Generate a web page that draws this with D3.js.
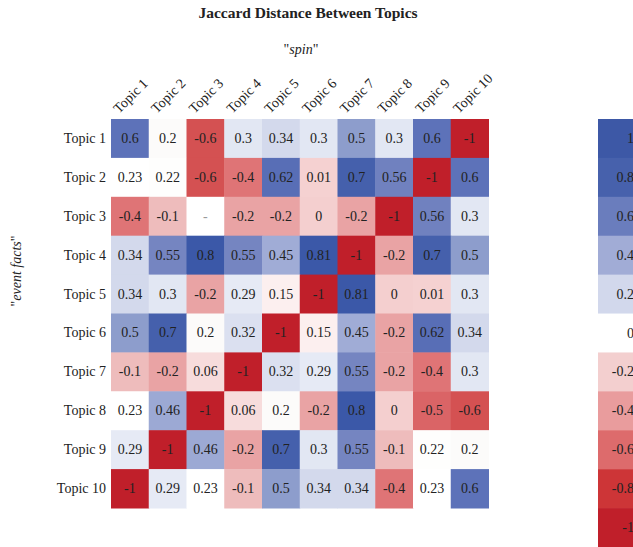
<!DOCTYPE html>
<html>
<head>
<meta charset="utf-8">
<script src="https://cdn.jsdelivr.net/npm/d3@7"></script>
<style>
  body { margin: 0; background: #fff; }
  svg { font-family: "Liberation Serif", "DejaVu Serif", serif; }
</style>
</head>
<body>
<div id="chart"></div>
<script>
// Data
const topics = ["Topic 1", "Topic 2", "Topic 3", "Topic 4", "Topic 5",
                "Topic 6", "Topic 7", "Topic 8", "Topic 9", "Topic 10"];

// rows = "event facts", columns = "spin"; null = no value
const values = [
  [0.6, 0.2, -0.6, 0.3, 0.34, 0.3, 0.5, 0.3, 0.6, -1],
  [0.23, 0.22, -0.6, -0.4, 0.62, 0.01, 0.7, 0.56, -1, 0.6],
  [-0.4, -0.1, null, -0.2, -0.2, 0, -0.2, -1, 0.56, 0.3],
  [0.34, 0.55, 0.8, 0.55, 0.45, 0.81, -1, -0.2, 0.7, 0.5],
  [0.34, 0.3, -0.2, 0.29, 0.15, -1, 0.81, 0, 0.01, 0.3],
  [0.5, 0.7, 0.2, 0.32, -1, 0.15, 0.45, -0.2, 0.62, 0.34],
  [-0.1, -0.2, 0.06, -1, 0.32, 0.29, 0.55, -0.2, -0.4, 0.3],
  [0.23, 0.46, -1, 0.06, 0.2, -0.2, 0.8, 0, -0.5, -0.6],
  [0.29, -1, 0.46, -0.2, 0.7, 0.3, 0.55, -0.1, 0.22, 0.2],
  [-1, 0.29, 0.23, -0.1, 0.5, 0.34, 0.34, -0.4, 0.23, 0.6]
];

const legendTicks = [1, 0.8, 0.6, 0.4, 0.2, 0, -0.2, -0.4, -0.6, -0.8, -1];

// Cell colour ramp (stops)
const cellStops = [-1, -0.6, -0.5, -0.4, -0.2, -0.1, 0, 0.06, 0.15, 0.2, 0.23, 0.29, 0.34, 0.45, 0.5, 0.55, 0.6, 0.7, 0.8];
const cellColors = ["#c01f2a", "#d45152", "#da6466", "#df7476", "#e9a3a4", "#eebcbc", "#f4cfcf", "#f7dcdc",
                    "#fcefef", "#fcfbfa", "#ffffff", "#e6eaf5", "#d3d9ec", "#a0acd6", "#8d9dcc", "#7585c1",
                    "#5d72b9", "#4560ac", "#3b58a8"];

// Legend swatch colours
const legendColors = ["#3d58a6", "#4761ac", "#6a7dbd", "#a1acd6", "#d2d8ec", "#ffffff",
                      "#f3cfcf", "#e99c9d", "#dd6b6c", "#cd3537", "#c01f2a"];

const width = 633, height = 547;
const svg = d3.select("#chart").append("svg")
  .attr("width", width)
  .attr("height", height);

const x = d3.scaleBand().domain(topics).range([111, 488.5]);
const y = d3.scaleBand().domain(topics).range([119, 508]);

const color = d3.scaleLinear().domain(cellStops).range(cellColors).clamp(true);

const cells = [];
values.forEach((row, i) => row.forEach((v, j) => cells.push({ row: topics[i], col: topics[j], v })));

// cells
svg.append("g").selectAll("rect")
  .data(cells)
  .enter()
  .append("rect")
  .attr("x", d => x(d.col))
  .attr("y", d => y(d.row))
  .attr("width", x.bandwidth() + 0.5)
  .attr("height", y.bandwidth() + 0.5)
  .attr("fill", d => d.v === null ? "#ffffff" : color(d.v));

svg.append("g").selectAll("text")
  .data(cells)
  .enter()
  .append("text")
  .attr("x", d => x(d.col) + x.bandwidth() / 2)
  .attr("y", d => y(d.row) + y.bandwidth() / 2)
  .attr("text-anchor", "middle")
  .attr("dominant-baseline", "central")
  .attr("font-size", 14)
  .attr("fill", d => d.v === null ? "#999" : "#222")
  .text(d => d.v === null ? "-" : d.v);

// row labels
svg.append("g").selectAll("text")
  .data(topics)
  .enter()
  .append("text")
  .attr("x", 106)
  .attr("y", d => y(d) + y.bandwidth() / 2)
  .attr("text-anchor", "end")
  .attr("dominant-baseline", "central")
  .attr("font-size", 14)
  .attr("fill", "#222")
  .text(d => d);

// column labels
svg.append("g").selectAll("text")
  .data(topics)
  .enter()
  .append("text")
  .attr("transform", d => `translate(${x(d) + 8},${114}) rotate(-45)`)
  .attr("font-size", 14)
  .attr("fill", "#222")
  .text(d => d);

// titles
svg.append("text")
  .attr("x", 308).attr("y", 18)
  .attr("text-anchor", "middle")
  .attr("font-size", 15.5)
  .attr("font-weight", "bold")
  .attr("fill", "#222")
  .text("Jaccard Distance Between Topics");

svg.append("text")
  .attr("x", 301).attr("y", 54)
  .attr("text-anchor", "middle")
  .attr("font-size", 14)
  .attr("fill", "#222")
  .html('"<tspan font-style="italic">spin</tspan>"');

svg.append("text")
  .attr("transform", "translate(21,271) rotate(-90)")
  .attr("text-anchor", "middle")
  .attr("font-size", 14)
  .attr("fill", "#222")
  .html('"<tspan font-style="italic">event facts</tspan>"');

// legend
const ly = d3.scaleBand().domain(legendTicks).range([119, 547]);
const legend = svg.append("g");
legend.selectAll("rect")
  .data(legendTicks)
  .enter()
  .append("rect")
  .attr("x", 598)
  .attr("y", d => ly(d))
  .attr("width", 60)
  .attr("height", ly.bandwidth() + 0.5)
  .attr("fill", (d, i) => legendColors[i]);

legend.selectAll("text")
  .data(legendTicks)
  .enter()
  .append("text")
  .attr("x", 634)
  .attr("y", d => ly(d) + ly.bandwidth() / 2)
  .attr("text-anchor", "end")
  .attr("dominant-baseline", "central")
  .attr("font-size", 14)
  .attr("fill", "#222")
  .text(d => d);
</script>
</body>
</html>
